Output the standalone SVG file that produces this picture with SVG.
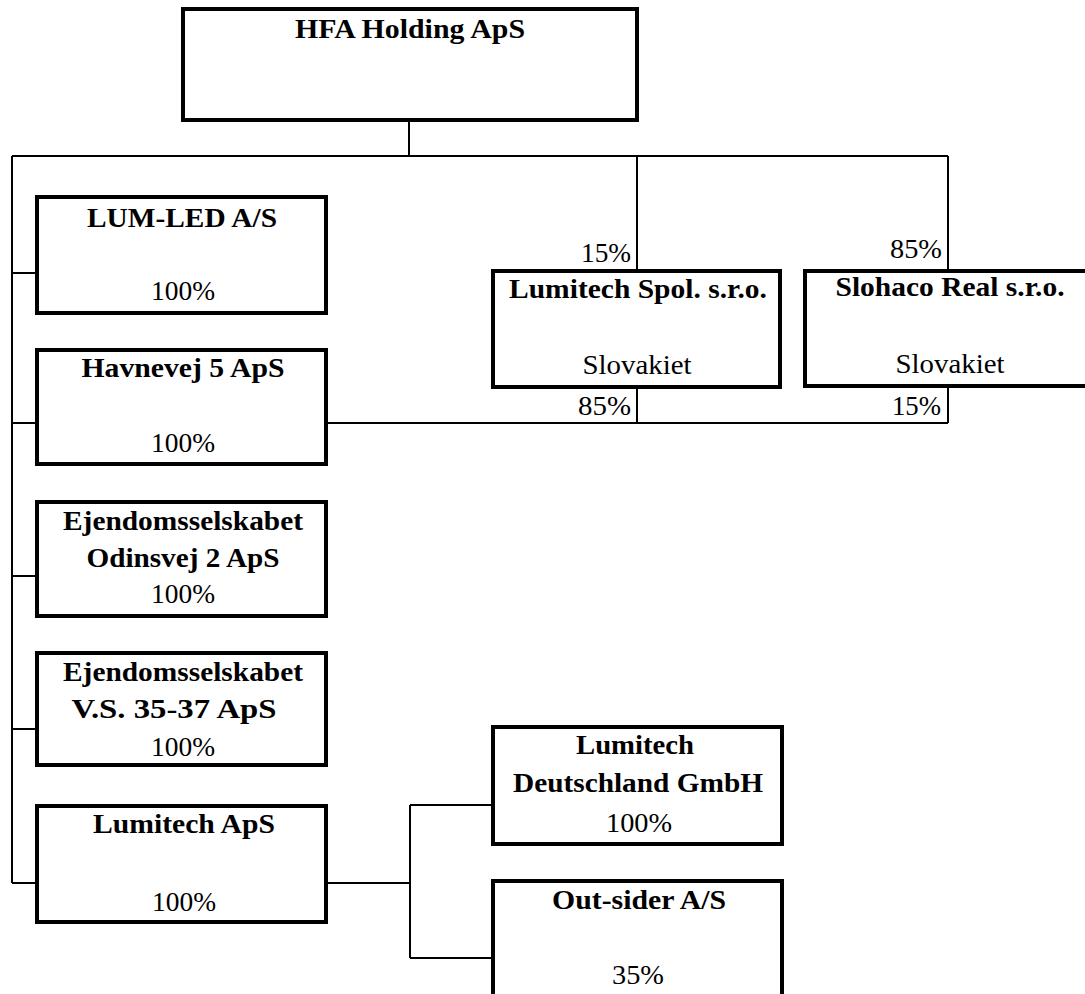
<svg xmlns="http://www.w3.org/2000/svg" width="1085" height="994" viewBox="0 0 1085 994">
<style>
.box{fill:#fff;stroke:#000;stroke-width:4}
.c{fill:none;stroke:#000;stroke-width:2}
text{font-family:'Liberation Serif','DejaVu Serif',serif;fill:#000}
.n{font-weight:bold;font-size:27px;text-anchor:middle}
.p{font-size:28px;text-anchor:middle}
.pr{font-size:28px;text-anchor:end}
</style>
<rect width="1085" height="994" fill="#fff"/>
<g id="connectors">
<path class="c" d="M409 120V156M12 156H948M12 156V883M12 273H37M12 423H37M12 576H37M12 729H37M12 883H37"/>
<path class="c" d="M637 156V271M948 156V271M326 423H948M637 387V423M948 386V423"/>
<path class="c" d="M326 883H410M410 805V958M410 805H493M410 958H493"/>
<text class="pr" x="631" y="262" textLength="50" lengthAdjust="spacingAndGlyphs">15%</text>
<text class="pr" x="942" y="258" textLength="52" lengthAdjust="spacingAndGlyphs">85%</text>
<text class="pr" x="631" y="415" textLength="53" lengthAdjust="spacingAndGlyphs">85%</text>
<text class="pr" x="941" y="415" textLength="49" lengthAdjust="spacingAndGlyphs">15%</text>
</g>
<g id="hfa">
<rect class="box" x="183" y="9" width="454" height="111"/>
<text class="n" x="410" y="38" font-size="29" textLength="230" lengthAdjust="spacingAndGlyphs">HFA Holding ApS</text>
</g>
<g id="lumled">
<rect class="box" x="37" y="197" width="289" height="116"/>
<text class="n" x="182" y="227" textLength="190" lengthAdjust="spacingAndGlyphs">LUM-LED A/S</text>
<text class="p" x="183" y="300" textLength="64" lengthAdjust="spacingAndGlyphs">100%</text>
</g>
<g id="havnevej">
<rect class="box" x="37" y="350" width="289" height="114"/>
<text class="n" x="183" y="377" textLength="203" lengthAdjust="spacingAndGlyphs">Havnevej 5 ApS</text>
<text class="p" x="183" y="452" textLength="64" lengthAdjust="spacingAndGlyphs">100%</text>
</g>
<g id="odinsvej">
<rect class="box" x="37" y="502" width="289" height="114"/>
<text class="n" x="183" y="530" textLength="240" lengthAdjust="spacingAndGlyphs">Ejendomsselskabet</text>
<text class="n" x="183" y="567" textLength="193" lengthAdjust="spacingAndGlyphs">Odinsvej 2 ApS</text>
<text class="p" x="183" y="603" textLength="64" lengthAdjust="spacingAndGlyphs">100%</text>
</g>
<g id="vs">
<rect class="box" x="37" y="653" width="289" height="112"/>
<text class="n" x="183" y="681" textLength="240" lengthAdjust="spacingAndGlyphs">Ejendomsselskabet</text>
<text class="n" x="174" y="718" textLength="205" lengthAdjust="spacingAndGlyphs">V.S. 35-37 ApS</text>
<text class="p" x="183" y="756" textLength="64" lengthAdjust="spacingAndGlyphs">100%</text>
</g>
<g id="lumitechaps">
<rect class="box" x="37" y="806" width="289" height="116"/>
<text class="n" x="184" y="833" textLength="182" lengthAdjust="spacingAndGlyphs">Lumitech ApS</text>
<text class="p" x="184" y="911" textLength="64" lengthAdjust="spacingAndGlyphs">100%</text>
</g>
<g id="spol">
<rect class="box" x="493" y="271" width="287" height="116"/>
<text class="n" x="638" y="298" textLength="258" lengthAdjust="spacingAndGlyphs">Lumitech Spol. s.r.o.</text>
<text class="p" x="637" y="374" textLength="109" lengthAdjust="spacingAndGlyphs">Slovakiet</text>
</g>
<g id="slohaco">
<rect class="box" x="805" y="271" width="290" height="115"/>
<text class="n" x="950" y="296" textLength="229" lengthAdjust="spacingAndGlyphs">Slohaco Real s.r.o.</text>
<text class="p" x="950" y="373" textLength="109" lengthAdjust="spacingAndGlyphs">Slovakiet</text>
</g>
<g id="deutschland">
<rect class="box" x="493" y="727" width="289" height="117"/>
<text class="n" x="635" y="754" textLength="118" lengthAdjust="spacingAndGlyphs">Lumitech</text>
<text class="n" x="638" y="792" textLength="250" lengthAdjust="spacingAndGlyphs">Deutschland GmbH</text>
<text class="p" x="639" y="832" textLength="66" lengthAdjust="spacingAndGlyphs">100%</text>
</g>
<g id="outsider">
<rect class="box" x="493" y="881" width="289" height="120"/>
<text class="n" x="639" y="909" textLength="174" lengthAdjust="spacingAndGlyphs">Out-sider A/S</text>
<text class="p" x="638" y="984" textLength="52" lengthAdjust="spacingAndGlyphs">35%</text>
</g>
</svg>
